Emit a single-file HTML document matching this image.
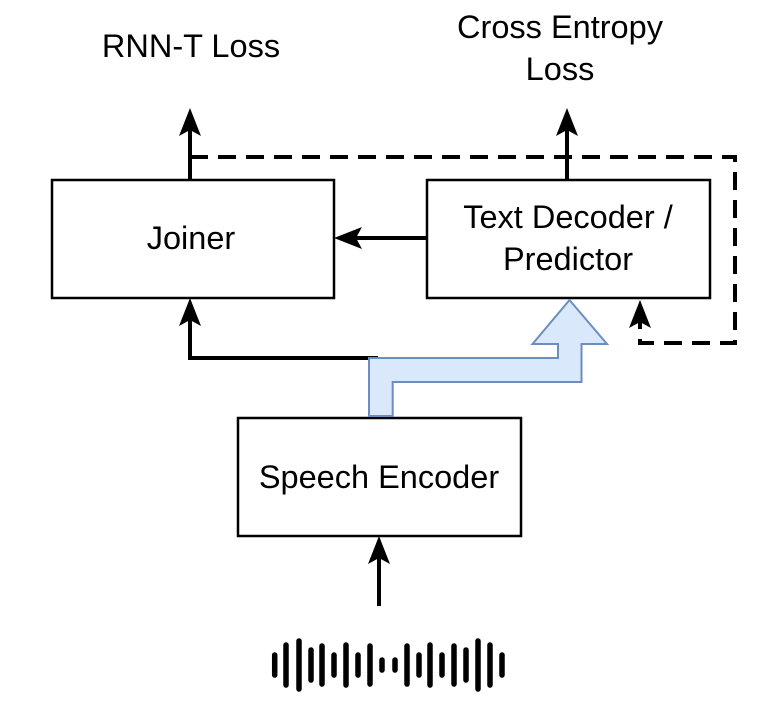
<!DOCTYPE html>
<html><head><style>body{margin:0;background:#fff}svg{display:block}</style></head><body>
<svg width="770" height="722" viewBox="0 0 770 722" xmlns="http://www.w3.org/2000/svg" font-family="Liberation Sans, sans-serif" font-size="32.5">
<g fill="#fff" stroke="#000" stroke-width="2.5">
<rect x="52" y="180" width="282" height="118"/>
<rect x="427" y="180" width="283" height="118"/>
<rect x="238" y="418" width="283" height="118"/>
</g>
<g fill="#000" text-anchor="middle">
<text x="191" y="249">Joiner</text>
<text x="568" y="228">Text Decoder /</text>
<text x="568" y="270">Predictor</text>
<text x="379" y="488">Speech Encoder</text>
<text x="191" y="57">RNN-T Loss</text>
<text x="560" y="38">Cross Entropy</text>
<text x="560" y="80">Loss</text>
</g>
<g stroke="#000" stroke-width="4" fill="none">
<path d="M190 180V128"/>
<path d="M567 180V128"/>
<path d="M427 238H356"/>
<path d="M378 358H190V318"/>
<path d="M379 606V556"/>
<path d="M190 157H735V343H640V322" stroke-dasharray="18 10"/>
</g>
<g fill="#000">
<path d="M190 108L179 136L190 130L201 136Z"/>
<path d="M567 108L556 136L567 130L578 136Z"/>
<path d="M334 238L362 227L356 238L362 249Z"/>
<path d="M190 298L179 326L190 320L201 326Z"/>
<path d="M379 536L368 564L379 558L390 564Z"/>
<path d="M640 300L629 328L640 322L651 328Z"/>
</g>
<path d="M369 416V358H558V344H532.5L569.5 300L607 344H581.5V382H392.7V416Z" fill="#dae8fc" stroke="#6c8ebf" stroke-width="2"/>
<g stroke="#000" stroke-width="5.5" stroke-linecap="round">
<path d="M274.7 655V675M286 645V685M299 641V689M311 650V680M322 646V684M334 655V675M346 645V685M358 655V675M370 646V684M382 660V670M395 660V670M407 646V684M419 655V675M430 645V685M442 655V675M454 646V684M466 650V680M478 641V689M490 645V685M502 655V675"/>
</g>
</svg>
</body></html>
